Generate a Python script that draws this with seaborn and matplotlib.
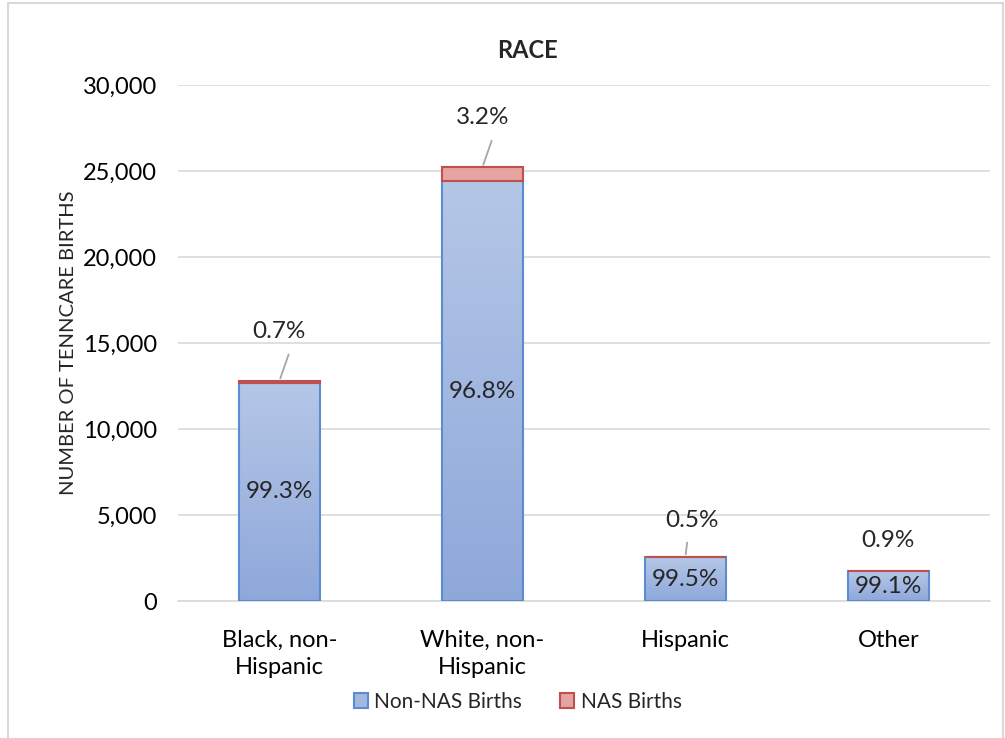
import numpy as np
import pandas as pd
import seaborn as sns
import matplotlib.pyplot as plt
from matplotlib.lines import Line2D
from matplotlib.patches import Patch

# values
races = ["Black, non-\nHispanic", "White, non-\nHispanic", "Hispanic", "Other"]
non_nas = [12700, 24400, 2545, 1728]
nas = [90, 810, 13, 16]
non_nas_pct = ["99.3%", "96.8%", "99.5%", "99.1%"]
nas_pct = ["0.7%", "3.2%", "0.5%", "0.9%"]

sns.set_style("white")
plt.rcParams["font.family"] = ["Lato", "DejaVu Sans"]

df = pd.DataFrame({"race": races, "non_nas": non_nas, "nas": nas})
df["total"] = df["non_nas"] + df["nas"]

fig = plt.figure(figsize=(10.05, 7.38), dpi=100)
ax = fig.add_axes([0.177, 0.1856, 0.808, 0.6992])

# blue bars first, NAS segments stacked on top of them
sns.barplot(data=df, x="race", y="non_nas", color="#a3b8df", edgecolor="#5b8bd0",
            linewidth=1.5, width=0.4, ax=ax, saturation=1, zorder=3)
n_first = len(ax.patches)
sns.barplot(data=df, x="race", y="nas", color="#e5a3a2", edgecolor="#c0504d",
            linewidth=1.5, width=0.4, ax=ax, saturation=1, zorder=4)
for p, base in zip(ax.patches[n_first:], df["non_nas"]):
    p.set_y(base)

# vertical gradient inside the blue bars
grad = np.linspace(0, 1, 256).reshape(-1, 1)
cmap = sns.blend_palette(["#8ea8da", "#b5c7e7"], as_cmap=True)
for p in ax.patches[:n_first]:
    x0, y0 = p.get_x(), p.get_y()
    w, h = p.get_width(), p.get_height()
    im = ax.imshow(grad, cmap=cmap, origin="lower", aspect="auto",
                   extent=[x0, x0 + w, y0, y0 + h], zorder=2.5)
    im.set_clip_path(p)
    p.set_facecolor("none")

ax.set_xlim(-0.5, 3.5)
ax.set_ylim(0, 30000)
ax.set_yticks(range(0, 30001, 5000))
ax.set_yticklabels([f"{v:,}" for v in range(0, 30001, 5000)])
ax.yaxis.grid(True, color="#d9d9d9", linewidth=1.2)
ax.set_axisbelow(True)
for s in ["top", "right", "left"]:
    ax.spines[s].set_visible(False)
ax.spines["bottom"].set_color("#d9d9d9")
ax.spines["bottom"].set_linewidth(1.2)
ax.tick_params(axis="both", length=0, labelsize=17, colors="black")
ax.tick_params(axis="x", pad=21)
ax.tick_params(axis="y", pad=15)
for lbl in ax.get_xticklabels():
    lbl.set_linespacing(1.35)
ax.set_xlabel("")
ax.set_ylabel("NUMBER OF TENNCARE BIRTHS", fontsize=14.5, labelpad=4)

# labels inside blue bars
for i, (v, t) in enumerate(zip(non_nas, non_nas_pct)):
    ax.text(i, v / 2, t, ha="center", va="center", fontsize=17.5, zorder=5)

# NAS labels above the bars with leader lines
offsets = [(0, 36), (0, 36), (5, 26), (0, 22)]
leaders = [True, True, True, False]
for i, (tot, t) in enumerate(zip(df["total"], nas_pct)):
    dx, dy = offsets[i]
    ax.annotate(t, xy=(i, tot), xytext=(dx, dy), textcoords="offset points",
                ha="center", va="center", fontsize=17.5)
    if leaders[i]:
        ax.annotate("", xy=(i, tot), xytext=(i + 0.05 - (0.04 if i == 2 else 0), tot + 1700 - (700 if i == 2 else 0)),
                    arrowprops=dict(arrowstyle="-", color="#a6a6a6", lw=1.3))

fig.text(0.525, 0.932, "RACE", ha="center", va="center", fontsize=17, fontweight="bold")

handles = [Patch(facecolor="#a3b8df", edgecolor="#5b8bd0", linewidth=1.5),
           Patch(facecolor="#e5a3a2", edgecolor="#c0504d", linewidth=1.5)]
fig.legend(handles, ["Non-NAS Births", "NAS Births"], loc="center",
           bbox_to_anchor=(0.515, 0.049), ncol=2, frameon=False, fontsize=15,
           handlelength=0.7, handleheight=0.7, handletextpad=0.3, columnspacing=1.8)

# chart border
for xs, ys in [([0.008, 0.008], [0, 0.996]), ([0.008, 0.998], [0.996, 0.996]),
               ([0.998, 0.998], [0, 0.996])]:
    fig.add_artist(Line2D(xs, ys, color="#d9d9d9", lw=1.5, transform=fig.transFigure))

fig.savefig("out.png", dpi=100)
